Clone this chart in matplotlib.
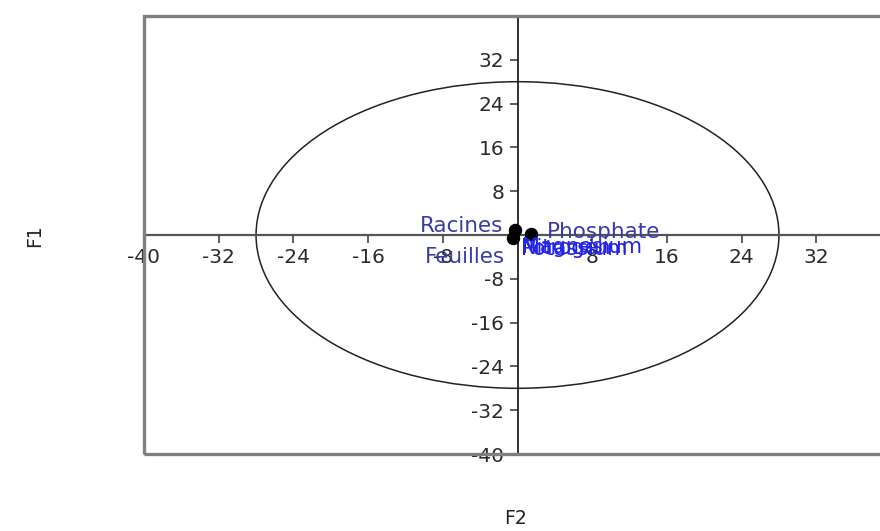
import numpy as np
import matplotlib
matplotlib.use("Agg")
import matplotlib.pyplot as plt
from matplotlib.patches import Circle, Rectangle

plt.rcParams['axes.unicode_minus'] = False
plt.rcParams['font.family'] = ['DejaVu Sans']

# variables (coordonnees sur F2 / F1)
var_names = ["Racines", "Feuilles", "Phosphate"]
var_x = [-0.3, -0.5, 1.4]
var_y = [1.0, -0.6, 0.2]

# etiquettes superposees (bleu vif)
over_names = ["Nitrogen", "Potassium", "Magnesium"]
over_x = [0.4, 0.4, 0.5]
over_y = [-2.4, -2.6, -2.2]

radius = 28
xticks = [-40, -32, -24, -16, -8, 8, 16, 24, 32]
yticks = [-40, -32, -24, -16, -8, 8, 16, 24, 32]

fig = plt.figure(figsize=(8.8, 5.31), dpi=100)
ax = fig.add_axes([144 / 880, 1 - 454 / 531, (891 - 144) / 880, 438 / 531])
ax.set_xlim(-40, 40)
ax.set_ylim(-40, 40)

# cadre gris
ax.add_patch(Rectangle((0, 0), 1, 1, transform=ax.transAxes, fill=False,
                       edgecolor="#7f7f7f", lw=2.4, clip_on=False, zorder=5))

# axes passant par zero
for s in ["top", "right"]:
    ax.spines[s].set_visible(False)
ax.spines["left"].set_position(("data", 0))
ax.spines["bottom"].set_position(("data", 0))
ax.spines["left"].set_color("#222222")
ax.spines["bottom"].set_color("#555555")
ax.spines["left"].set_linewidth(1.3)
ax.spines["bottom"].set_linewidth(1.6)

ax.set_xticks(xticks)
ax.set_xticklabels([str(v) for v in xticks])
ax.set_yticks(yticks)
ax.set_yticklabels([str(v) for v in yticks])
ax.tick_params(direction="out", length=5.5, width=1.2, color="#444444",
               labelsize=14.5, labelcolor="#2a2a2a", pad=4)

ax.add_patch(Circle((0, 0), radius, fill=False, edgecolor="#222222", lw=1.1))

ax.scatter(var_x, var_y, s=75, color="black", zorder=6)
ax.text(var_x[0] - 1.2, var_y[0] + 0.6, var_names[0], color="#3a3aa8",
        fontsize=15.5, ha="right", va="center", zorder=7)
ax.text(var_x[1] - 0.8, var_y[1] - 3.4, var_names[1], color="#3a3aa8",
        fontsize=15.5, ha="right", va="center", zorder=7)
ax.text(var_x[2] + 1.7, var_y[2] + 0.4, var_names[2], color="#3a3aa8",
        fontsize=15.5, ha="left", va="center", zorder=7)
for n, x, y in zip(over_names, over_x, over_y):
    ax.text(x, y, n, color="#2424e6", fontsize=15, ha="left", va="center",
            zorder=7)

fig.text(35 / 880, 1 - 236 / 531, "F1", rotation=90, ha="center", va="center",
         fontsize=13.5, color="#222222")
fig.text(516 / 880, 1 - 518 / 531, "F2", ha="center", va="center",
         fontsize=13.5, color="#222222")

fig.savefig("out.png", dpi=100)
